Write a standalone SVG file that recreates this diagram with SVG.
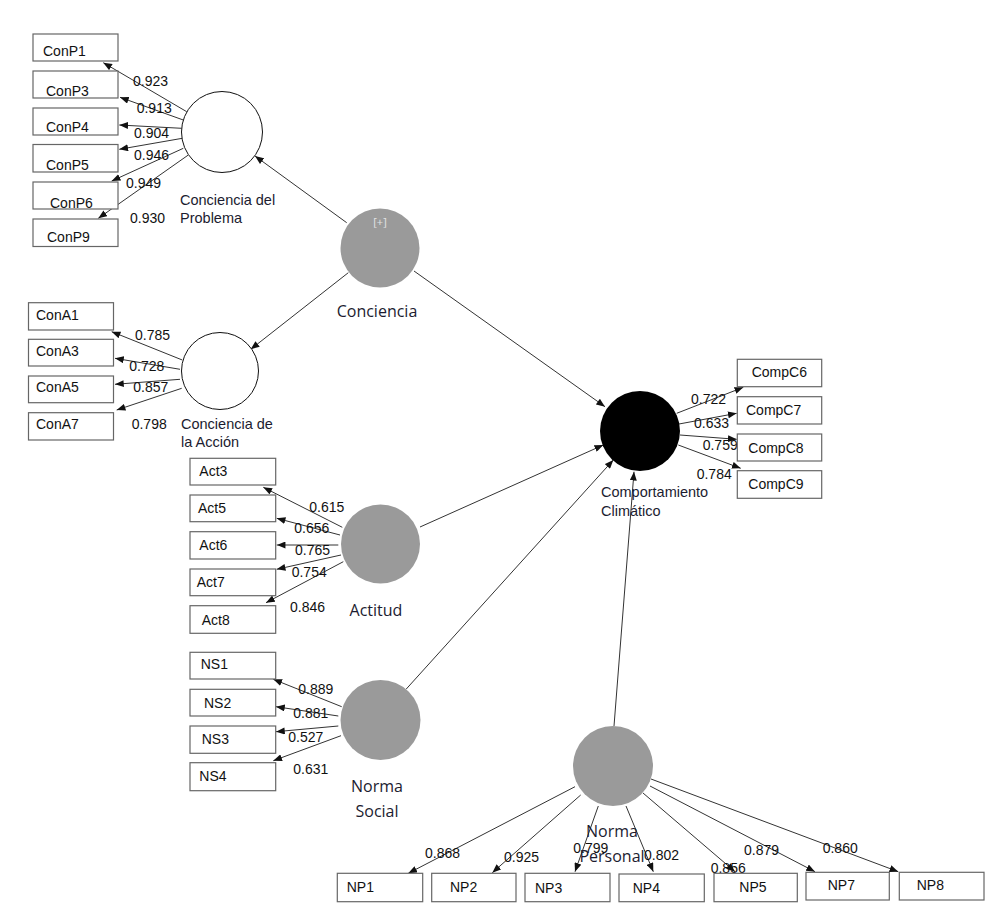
<svg xmlns="http://www.w3.org/2000/svg" width="1000" height="908" viewBox="0 0 1000 908">
<style>
.box{fill:#fff;stroke:#666;stroke-width:1.2}
.t{font-family:"Liberation Sans",Arial,sans-serif;font-size:14px;fill:#111}
.n{font-family:"Liberation Sans",Arial,sans-serif;font-size:14px;fill:#111}
.lv{font-family:"Open Sans","Noto Sans",sans-serif;font-size:16px;fill:#1c1c30}
.lvs{font-family:"Liberation Sans",Arial,sans-serif;font-size:14.5px;fill:#1c1c30}
.c{stroke:#333;stroke-width:1;fill:none;marker-end:url(#ah)}
.gray{fill:#9a9a9a}
.white{fill:#fff;stroke:#111;stroke-width:1}
</style>
<defs>
<marker id="ah" viewBox="0 0 10 8" refX="10" refY="4" markerWidth="9" markerHeight="7" orient="auto" markerUnits="userSpaceOnUse">
<path d="M0,0 L10,4 L0,8 z" fill="#111"/>
</marker>
</defs>
<rect width="1000" height="908" fill="#fff"/>

<g id="connectors">
<!-- structural -->
<line class="c" x1="346.7" y1="222.7" x2="255" y2="156"/>
<line class="c" x1="348.3" y1="272.7" x2="250.7" y2="349.3"/>
<line class="c" x1="414" y1="271" x2="605" y2="406.7"/>
<line class="c" x1="420" y1="527" x2="603.3" y2="445"/>
<line class="c" x1="406" y1="689.3" x2="613.3" y2="460"/>
<line class="c" x1="614" y1="726" x2="634" y2="471.7"/>
<!-- ConP -->
<line class="c" x1="186.7" y1="111.7" x2="103.3" y2="62.7"/>
<line class="c" x1="183.3" y1="120" x2="120" y2="97.3"/>
<line class="c" x1="181.7" y1="128.3" x2="119.3" y2="125"/>
<line class="c" x1="182.3" y1="138.3" x2="119.3" y2="149.3"/>
<line class="c" x1="183.3" y1="148.3" x2="111.7" y2="181"/>
<line class="c" x1="188.3" y1="155" x2="98.3" y2="218.3"/>
<!-- ConA -->
<line class="c" x1="182.3" y1="360" x2="111.7" y2="331.7"/>
<line class="c" x1="180" y1="369.3" x2="115" y2="358.3"/>
<line class="c" x1="180" y1="379.3" x2="115" y2="384.3"/>
<line class="c" x1="181.7" y1="388.3" x2="116.7" y2="410"/>
<!-- Act -->
<line class="c" x1="342.3" y1="527.3" x2="263.3" y2="487.3"/>
<line class="c" x1="340" y1="535" x2="276.7" y2="518.3"/>
<line class="c" x1="338.3" y1="545" x2="276.7" y2="545"/>
<line class="c" x1="341" y1="555" x2="276.7" y2="569.3"/>
<line class="c" x1="343.3" y1="561.7" x2="266" y2="602.7"/>
<!-- NS -->
<line class="c" x1="341.7" y1="706.7" x2="273.3" y2="679.3"/>
<line class="c" x1="338.3" y1="716" x2="276" y2="706.7"/>
<line class="c" x1="338.3" y1="726" x2="276" y2="731.7"/>
<line class="c" x1="341" y1="735.7" x2="273.3" y2="760.7"/>
<!-- NP -->
<line class="c" x1="575" y1="786.7" x2="408.3" y2="873.3"/>
<line class="c" x1="580.7" y1="795" x2="492.3" y2="872.7"/>
<line class="c" x1="598.3" y1="806" x2="575" y2="871.7"/>
<line class="c" x1="626" y1="806" x2="653.3" y2="871.7"/>
<line class="c" x1="643" y1="793" x2="735" y2="871.7"/>
<line class="c" x1="650" y1="786" x2="815" y2="871.7"/>
<line class="c" x1="651" y1="779" x2="898.3" y2="871.7"/>
<!-- CompC -->
<line class="c" x1="676.7" y1="413.3" x2="743.3" y2="387.3"/>
<line class="c" x1="679" y1="424" x2="736.7" y2="413.3"/>
<line class="c" x1="680" y1="435" x2="736.7" y2="439.3"/>
<line class="c" x1="678.3" y1="445" x2="740.7" y2="468.3"/>
</g>

<g id="loadings">
<text class="n" x="133" y="86">0.923</text>
<text class="n" x="136.7" y="113.3">0.913</text>
<text class="n" x="134" y="138.3">0.904</text>
<text class="n" x="134" y="160">0.946</text>
<text class="n" x="126" y="188.3">0.949</text>
<text class="n" x="130" y="222.7">0.930</text>
<text class="n" x="135" y="340">0.785</text>
<text class="n" x="129.3" y="370.7">0.728</text>
<text class="n" x="133.3" y="391.7">0.857</text>
<text class="n" x="131.7" y="429.3">0.798</text>
<text class="n" x="309.3" y="511.7">0.615</text>
<text class="n" x="294.3" y="533.3">0.656</text>
<text class="n" x="295" y="555">0.765</text>
<text class="n" x="291.7" y="577.3">0.754</text>
<text class="n" x="290" y="611.7">0.846</text>
<text class="n" x="298.3" y="694">0.889</text>
<text class="n" x="293.3" y="718.3">0.881</text>
<text class="n" x="288.3" y="741.7">0.527</text>
<text class="n" x="293.3" y="774">0.631</text>
<text class="n" x="425" y="858.3">0.868</text>
<text class="n" x="504" y="861.7">0.925</text>
<text class="n" x="573.3" y="853.3">0.799</text>
<text class="n" x="644" y="860">0.802</text>
<text class="n" x="710.7" y="873.3">0.856</text>
<text class="n" x="744" y="855">0.879</text>
<text class="n" x="822.7" y="852.7">0.860</text>
<text class="n" x="691" y="404">0.722</text>
<text class="n" x="694" y="428.3">0.633</text>
<text class="n" x="702.7" y="450">0.759</text>
<text class="n" x="696.7" y="479.3">0.784</text>
</g>

<g id="node-conciencia">
<circle class="gray" cx="380" cy="248" r="39.5"/>
<text x="380" y="226" text-anchor="middle" font-family="'Open Sans','Noto Sans',sans-serif" font-size="11" fill="#e4e4e4">[+]</text>
<text class="lv" x="377" y="317" text-anchor="middle">Conciencia</text>
</g>
<g id="node-conciencia-problema">
<circle class="white" cx="222" cy="132" r="40.5"/>
<text class="lvs" x="180" y="205">Conciencia del</text>
<text class="lvs" x="180" y="222.7">Problema</text>
</g>
<g id="node-conciencia-accion">
<circle class="white" cx="220" cy="371" r="38.5"/>
<text class="lvs" x="181" y="429">Conciencia de</text>
<text class="lvs" x="181" y="446.7">la Acción</text>
</g>
<g id="node-comportamiento">
<circle cx="640" cy="431" r="40" fill="#000"/>
<text class="lvs" x="601" y="497.3">Comportamiento</text>
<text class="lvs" x="601" y="515.7">Climático</text>
</g>
<g id="node-actitud">
<circle class="gray" cx="380.5" cy="544" r="39.5"/>
<text class="lv" x="376" y="616" text-anchor="middle">Actitud</text>
</g>
<g id="node-norma-social">
<circle class="gray" cx="380.5" cy="720" r="40"/>
<text class="lv" x="377" y="791.7" text-anchor="middle">Norma</text>
<text class="lv" x="377" y="816.7" text-anchor="middle">Social</text>
</g>
<g id="node-norma-personal">
<circle class="gray" cx="613" cy="766" r="40"/>
<text class="lv" x="612" y="836.7" text-anchor="middle">Norma</text>
<text class="lv" x="612" y="861.7" text-anchor="middle">Personal</text>
</g>

<g id="ind-ConP1"><rect class="box" x="33" y="34" width="85" height="27"/><text class="t" x="43" y="56">ConP1</text></g>
<g id="ind-ConP3"><rect class="box" x="33" y="71" width="85" height="27"/><text class="t" x="46" y="96">ConP3</text></g>
<g id="ind-ConP4"><rect class="box" x="33" y="108" width="85" height="27"/><text class="t" x="46" y="131.7">ConP4</text></g>
<g id="ind-ConP5"><rect class="box" x="33" y="144.5" width="85" height="27.5"/><text class="t" x="46" y="170">ConP5</text></g>
<g id="ind-ConP6"><rect class="box" x="33" y="182" width="85" height="27"/><text class="t" x="50" y="207.7">ConP6</text></g>
<g id="ind-ConP9"><rect class="box" x="33" y="219" width="85" height="27.5"/><text class="t" x="47" y="241.7">ConP9</text></g>

<g id="ind-ConA1"><rect class="box" x="28.5" y="302.7" width="85" height="27.3"/><text class="t" x="36" y="320">ConA1</text></g>
<g id="ind-ConA3"><rect class="box" x="28.5" y="339.3" width="85" height="26.7"/><text class="t" x="36" y="356">ConA3</text></g>
<g id="ind-ConA5"><rect class="box" x="28.5" y="376" width="85" height="26.7"/><text class="t" x="36" y="391.7">ConA5</text></g>
<g id="ind-ConA7"><rect class="box" x="28.5" y="412.7" width="85" height="27.3"/><text class="t" x="36" y="429.3">ConA7</text></g>

<g id="ind-Act3"><rect class="box" x="190" y="458.3" width="85.7" height="26.7"/><text class="t" x="199.3" y="476">Act3</text></g>
<g id="ind-Act5"><rect class="box" x="190" y="495" width="85.7" height="26.7"/><text class="t" x="198" y="512.7">Act5</text></g>
<g id="ind-Act6"><rect class="box" x="190" y="531.7" width="85.7" height="27.3"/><text class="t" x="199.3" y="550">Act6</text></g>
<g id="ind-Act7"><rect class="box" x="190" y="569" width="85.7" height="26.7"/><text class="t" x="196.7" y="586.7">Act7</text></g>
<g id="ind-Act8"><rect class="box" x="190" y="605.7" width="85.7" height="27.6"/><text class="t" x="201.7" y="625">Act8</text></g>

<g id="ind-NS1"><rect class="box" x="190" y="652.3" width="85.7" height="26.7"/><text class="t" x="200.7" y="669">NS1</text></g>
<g id="ind-NS2"><rect class="box" x="190" y="689.3" width="85.7" height="26.7"/><text class="t" x="204" y="708.3">NS2</text></g>
<g id="ind-NS3"><rect class="box" x="190" y="726" width="85.7" height="27.3"/><text class="t" x="201.7" y="744">NS3</text></g>
<g id="ind-NS4"><rect class="box" x="190" y="762.7" width="85.7" height="28"/><text class="t" x="199.3" y="781">NS4</text></g>

<g id="ind-NP1"><rect class="box" x="337.3" y="873.3" width="85.4" height="28.4"/><text class="t" x="346.7" y="891.7">NP1</text></g>
<g id="ind-NP2"><rect class="box" x="431.7" y="873.3" width="84.3" height="28.4"/><text class="t" x="450" y="891.7">NP2</text></g>
<g id="ind-NP3"><rect class="box" x="525" y="873.3" width="85" height="28.4"/><text class="t" x="535" y="893">NP3</text></g>
<g id="ind-NP4"><rect class="box" x="619" y="874" width="85.3" height="27.7"/><text class="t" x="632.7" y="893">NP4</text></g>
<g id="ind-NP5"><rect class="box" x="714" y="873.3" width="83.3" height="28.4"/><text class="t" x="739.3" y="891.7">NP5</text></g>
<g id="ind-NP7"><rect class="box" x="806" y="872.3" width="83.3" height="27.7"/><text class="t" x="827.7" y="890">NP7</text></g>
<g id="ind-NP8"><rect class="box" x="899.3" y="872.3" width="84.7" height="27.7"/><text class="t" x="916.7" y="890">NP8</text></g>

<g id="ind-CompC6"><rect class="box" x="737.3" y="359.3" width="84.4" height="27.4"/><text class="t" x="751.7" y="377.3">CompC6</text></g>
<g id="ind-CompC7"><rect class="box" x="737.3" y="396.7" width="84.4" height="27.3"/><text class="t" x="746" y="415">CompC7</text></g>
<g id="ind-CompC8"><rect class="box" x="737.3" y="434" width="84.4" height="27"/><text class="t" x="748.3" y="452.7">CompC8</text></g>
<g id="ind-CompC9"><rect class="box" x="737.3" y="470.7" width="84.4" height="27.6"/><text class="t" x="748.3" y="489.3">CompC9</text></g>
</svg>
